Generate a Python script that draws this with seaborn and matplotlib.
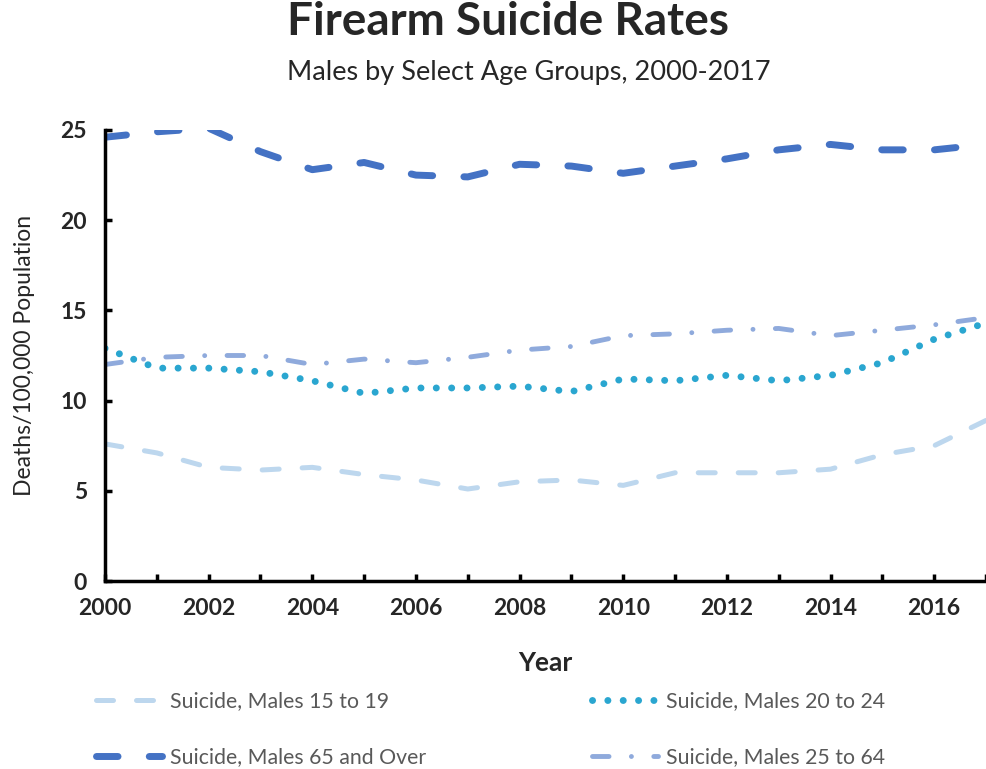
import matplotlib
matplotlib.use("Agg")
import matplotlib.pyplot as plt
import seaborn as sns
import pandas as pd
from matplotlib.lines import Line2D

years = list(range(2000, 2018))
males_15_19 = [7.6, 7.1, 6.3, 6.15, 6.3, 5.9, 5.6, 5.1, 5.5, 5.6, 5.3, 6.0, 6.0, 6.0, 6.2, 7.0, 7.5, 8.9]
males_20_24 = [12.9, 11.8, 11.8, 11.6, 11.1, 10.4, 10.7, 10.7, 10.8, 10.5, 11.2, 11.1, 11.4, 11.1, 11.4, 12.1, 13.4, 14.3]
males_65_over = [24.6, 24.9, 25.1, 23.8, 22.8, 23.2, 22.5, 22.4, 23.1, 23.0, 22.6, 23.0, 23.4, 23.9, 24.2, 23.9, 23.9, 24.2]
males_25_64 = [12.0, 12.4, 12.5, 12.5, 12.0, 12.3, 12.1, 12.4, 12.8, 13.0, 13.6, 13.7, 13.9, 14.0, 13.6, 13.9, 14.2, 14.6]

labels = ["Suicide, Males 15 to 19", "Suicide, Males 20 to 24",
          "Suicide, Males 65 and Over", "Suicide, Males 25 to 64"]
series = [males_15_19, males_20_24, males_65_over, males_25_64]

rows = []
for lab, vals in zip(labels, series):
    for y, v in zip(years, vals):
        rows.append({"Year": y, "Rate": v, "Series": lab})
df = pd.DataFrame(rows)

palette = {
    labels[0]: "#BDD7EE",
    labels[1]: "#2AA6D0",
    labels[2]: "#4472C4",
    labels[3]: "#8FAADC",
}
widths = {labels[0]: 3.6, labels[1]: 5.0, labels[2]: 5.0, labels[3]: 3.5}
dashes = {
    labels[0]: (3.4, 4.6),
    labels[1]: (0.01, 2.2),
    labels[2]: (3.1, 4.5),
    labels[3]: (3.4, 4.6, 0.01, 4.6),
}

sns.set_style("white")
plt.rcParams["font.family"] = ["Lato", "DejaVu Sans"]

fig = plt.figure(figsize=(9.86, 7.69), dpi=100)
ax = fig.add_axes([105 / 986, 1 - 581 / 769, 1 - 105 / 986, (581 - 130) / 769])

sns.lineplot(data=df, x="Year", y="Rate", hue="Series", style="Series",
             hue_order=labels, style_order=labels, palette=palette,
             dashes=dashes, legend=False, ax=ax)

for line, lab in zip(ax.lines, labels):
    line.set_linewidth(widths[lab])
    line.set_dash_capstyle("round")
    line.set_solid_capstyle("round")

ax.set_xlim(2000, 2016.92)
ax.set_ylim(0, 25)
ax.set_xticks(range(2000, 2017, 2))
ax.set_xticks(range(2000, 2018), minor=True)
ax.set_yticks([0, 5, 10, 15, 20, 25])

for side in ["top", "right"]:
    ax.spines[side].set_visible(False)
for side in ["left", "bottom"]:
    ax.spines[side].set_linewidth(2.5)
    ax.spines[side].set_color("black")

ax.tick_params(axis="both", which="both", direction="in", length=5, width=2.5,
               color="black")
ax.tick_params(axis="x", which="both", bottom=True)
ax.tick_params(axis="y", which="major", left=True)
ax.tick_params(axis="x", which="major", pad=12, labelsize=16.5)
ax.tick_params(axis="y", which="major", pad=13, labelsize=16.5)
for t in ax.get_xticklabels() + ax.get_yticklabels():
    t.set_fontweight("bold")

ax.set_xlabel("Year", fontsize=19, fontweight="bold", labelpad=23)
ax.set_ylabel("Deaths/100,000 Population", fontsize=16.5, labelpad=18)

fig.text(0.515, 0.971, "Firearm Suicide Rates", ha="center", va="center",
         fontsize=33, fontweight="bold")
fig.text(0.536, 0.906, "Males by Select Age Groups, 2000-2017", ha="center",
         va="center", fontsize=19.5)

handles = []
order = [0, 2, 1, 3]
for i in order:
    lab = labels[i]
    h = Line2D([0], [0], color=palette[lab], lw=widths[lab], dashes=dashes[lab],
               dash_capstyle="round")
    handles.append(h)
leg = fig.legend(handles, [labels[i] for i in order], ncol=2,
                 loc="upper left", bbox_to_anchor=(77 / 986, 1 - 672 / 769),
                 frameon=False, fontsize=15.3, handlelength=3.1,
                 handletextpad=0.38, columnspacing=7.8, labelspacing=1.7)
for t in leg.get_texts():
    t.set_color("#595959")

fig.savefig("out.png", dpi=100)
